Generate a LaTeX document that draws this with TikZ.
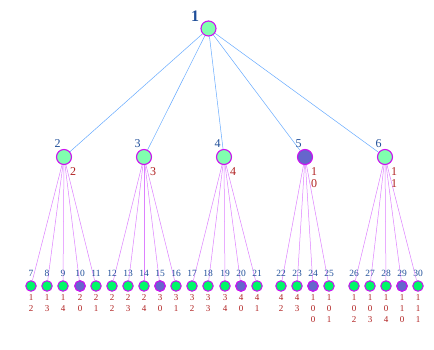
\documentclass[tikz,border=0pt]{standalone}
\usepackage{fontspec}
\setmainfont{Liberation Serif}
\usetikzlibrary{backgrounds}
\definecolor{vgreen}{HTML}{00F868}
\definecolor{vlight}{HTML}{80FFAE}
\definecolor{vpurple}{HTML}{6666CC}
\definecolor{vrim}{HTML}{CC11F0}
\definecolor{topedge}{HTML}{66AAFF}
\definecolor{subedge}{HTML}{DD80FF}
\definecolor{idblue}{HTML}{1F4E99}
\definecolor{codered}{HTML}{B02020}
\tikzset{
  vtx/.style={circle,draw=vrim,line width=1.1pt,fill=vlight,minimum size=15pt,inner sep=0pt},
  leaf/.style={vtx,fill=vgreen,minimum size=10.5pt,line width=1pt},
  hot/.style={fill=vpurple},
  idlab/.style={text=idblue,inner sep=0pt},
  code/.style={text=codered,inner sep=0pt,align=center,anchor=north},
}
\begin{document}
\begin{tikzpicture}[x=1pt,y=-1pt]
 \useasboundingbox (0,0) rectangle (434,350);
 % root
 \node[vtx] (n1) at (208.5,28.5) {};
 \node[idlab,font=\fontsize{16}{16}\selectfont\bfseries] at (195,16) {1};
 % second level
 \foreach \i/\x in {2/64,3/144,4/224,6/385}
   \node[vtx] (n\i) at (\x,157) {};
 \node[vtx,hot] (n5) at (305,157) {};
 \foreach \i/\x in {2/64,3/144,4/224,5/305,6/385}
   \node[idlab,font=\fontsize{12}{12}\selectfont] at (\x-6.5,144) {\i};
 \foreach \x/\lab in {64/2,144/3,224/4,305/{1\\0},385/{1\\1}}
   \node[code,font=\fontsize{12}{12}\selectfont] at (\x+9,167) {\lab};
 % leaves
 \foreach \i/\x/\lab in {7/31/{1\\2},8/47/{1\\3},9/63/{1\\4},10/80/{2\\0},
     11/96/{2\\1},12/112/{2\\2},13/128/{2\\3},14/144/{2\\4},15/160/{3\\0},
     16/176/{3\\1},17/192/{3\\2},18/208/{3\\3},19/225/{3\\4},20/241/{4\\0},
     21/257/{4\\1},22/281/{4\\2},23/297/{4\\3},24/313/{1\\0\\0},
     25/329/{1\\0\\1},26/354/{1\\0\\2},27/370/{1\\0\\3},28/386/{1\\0\\4},
     29/402/{1\\1\\0},30/418/{1\\1\\1}} {
   \node[leaf] (n\i) at (\x,286) {};
   \node[idlab,font=\fontsize{9.5}{9.5}\selectfont] at (\x,273) {\i};
   \node[code,font=\fontsize{9}{10.8}\selectfont] at (\x,294.5) {\lab};
 }
 \foreach \i in {10,15,20,24,29}
   \node[leaf,hot] at (n\i) {};
 % edges behind the nodes
 \begin{pgfonlayer}{background}
   \foreach \i in {2,...,6}
     \draw[topedge,line width=0.5pt] (n1) -- (n\i);
   \foreach \p/\cs in {2/{7,8,9,10,11},3/{12,13,14,15,16},4/{17,18,19,20,21},
       5/{22,23,24,25},6/{26,27,28,29,30}}
     \foreach \c in \cs
       \draw[subedge,line width=0.5pt] (n\p) -- (n\c);
 \end{pgfonlayer}
\end{tikzpicture}
\end{document}
